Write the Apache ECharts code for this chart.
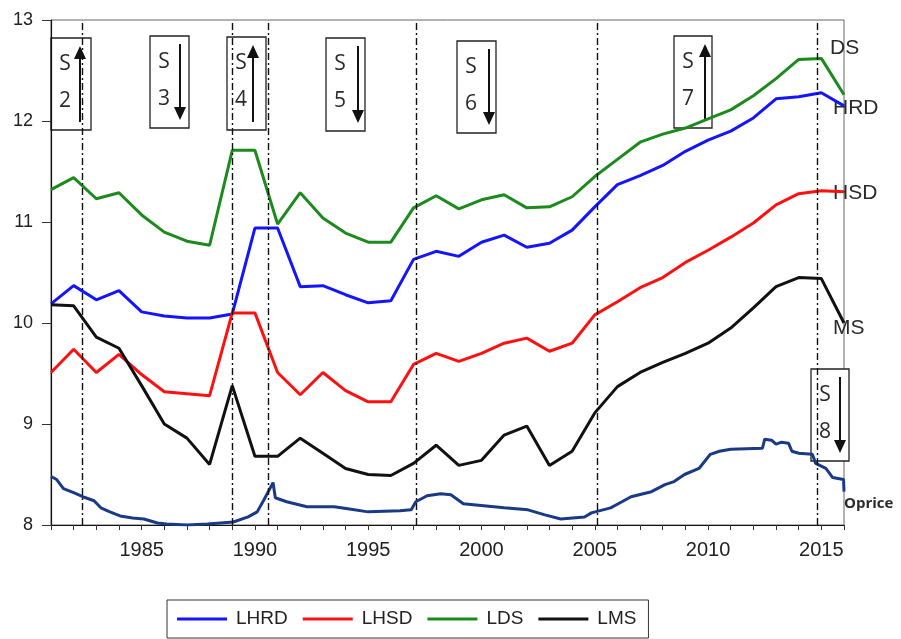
<!DOCTYPE html>
<html>
<head>
<meta charset="utf-8">
<style>
  html, body { margin: 0; padding: 0; background: #fff; }
  #chart { width: 901px; height: 639px; }
</style>
<script src="https://cdn.jsdelivr.net/npm/echarts@6/dist/echarts.min.js"></script>
</head>
<body>
<div id="chart"></div>
<script>
// annual series 1981..2016 (log levels)
const years = [];
for (let y = 1981; y <= 2016; y++) years.push(y);

const lhrd = [10.19, 10.37, 10.23, 10.32, 10.11, 10.07, 10.05, 10.05, 10.09, 10.94,
  10.94, 10.36, 10.37, 10.28, 10.20, 10.22, 10.63, 10.71, 10.66, 10.80,
  10.87, 10.75, 10.79, 10.92, 11.15, 11.37, 11.46, 11.56, 11.70, 11.81,
  11.90, 12.03, 12.22, 12.24, 12.28, 12.15];
const lhsd = [9.51, 9.74, 9.51, 9.69, 9.49, 9.32, 9.30, 9.28, 10.10, 10.10,
  9.51, 9.29, 9.51, 9.33, 9.22, 9.22, 9.59, 9.70, 9.62, 9.70,
  9.80, 9.85, 9.72, 9.80, 10.08, 10.21, 10.35, 10.45, 10.60, 10.72,
  10.85, 10.99, 11.17, 11.28, 11.31, 11.30];
const lds = [11.32, 11.44, 11.23, 11.29, 11.07, 10.90, 10.81, 10.77, 11.71, 11.71,
  10.98, 11.29, 11.04, 10.89, 10.80, 10.80, 11.14, 11.26, 11.13, 11.22,
  11.27, 11.14, 11.15, 11.25, 11.45, 11.62, 11.79, 11.87, 11.93, 12.02,
  12.11, 12.25, 12.42, 12.61, 12.62, 12.26];
const lms = [10.18, 10.17, 9.86, 9.75, 9.38, 9.00, 8.86, 8.60, 9.38, 8.68,
  8.68, 8.86, 8.71, 8.56, 8.50, 8.49, 8.61, 8.79, 8.59, 8.64,
  8.89, 8.98, 8.59, 8.73, 9.11, 9.37, 9.51, 9.61, 9.70, 9.80,
  9.95, 10.15, 10.36, 10.45, 10.44, 10.00];

// oil price, finer time steps
const opriceT = [1981.0, 1981.25, 1981.55, 1982.0, 1982.4, 1982.9, 1983.2, 1983.6, 1984.05, 1984.6,
  1985.1, 1985.7, 1986.1, 1987.0, 1987.9, 1989.05, 1989.7, 1990.1, 1990.4, 1990.8,
  1990.9, 1991.4, 1992.3, 1993.5, 1994.1, 1995.0, 1996.4, 1996.9, 1997.1, 1997.6,
  1998.2, 1998.65, 1999.2, 2000.1, 2001.0, 2002.05, 2002.8, 2003.5, 2004.55, 2004.85,
  2005.7, 2006.2, 2006.6, 2007.5, 2008.1, 2008.5, 2008.96, 2009.6, 2010.1, 2010.5,
  2011.0, 2012.4, 2012.5, 2012.8, 2013.0, 2013.25, 2013.55, 2013.7, 2014.0, 2014.6,
  2014.75, 2015.2, 2015.5, 2015.98, 2016.0];
const opriceV = [8.48, 8.45, 8.36, 8.32, 8.28, 8.24, 8.17, 8.13, 8.09, 8.07,
  8.06, 8.02, 8.01, 8.00, 8.01, 8.03, 8.08, 8.13, 8.25, 8.42,
  8.27, 8.23, 8.18, 8.18, 8.16, 8.13, 8.14, 8.15, 8.23, 8.29,
  8.31, 8.30, 8.21, 8.19, 8.17, 8.15, 8.10, 8.06, 8.08, 8.12,
  8.17, 8.23, 8.28, 8.33, 8.40, 8.43, 8.50, 8.56, 8.70, 8.73,
  8.75, 8.76, 8.85, 8.84, 8.80, 8.82, 8.81, 8.73, 8.71, 8.70,
  8.61, 8.56, 8.47, 8.45, 8.33];

// structural break dates
const breaks = [1982.4, 1989.0, 1990.6, 1997.1, 2005.1, 2014.8];

const pair = (xs, ys) => xs.map((x, i) => [x, ys[i]]);

// regime boxes: [x, y, w, h, number, up?, arrowX]
const boxes = [
  [51, 38, 40, 92, '2', true, 80],
  [150, 36, 39, 92, '3', false, 180],
  [227, 37, 39, 93, '4', true, 253],
  [326, 38, 39, 93, '5', false, 358],
  [457, 41, 39, 92, '6', false, 489],
  [674, 36, 38, 92, '7', true, 705],
  [811, 369, 38, 92, '8', false, 840]
];

function boxGraphic(b) {
  const [x, y, w, h, num, up, ax] = b;
  const top = y + 8, bot = y + h - 8;
  const tip = up ? top : bot;
  const base = up ? bot : top;
  const headLen = 13, headW = 6;
  const neck = up ? tip + headLen : tip - headLen;
  const txt = { fill: '#2b2b2b', font: '21px "Open Sans"', align: 'center', verticalAlign: 'middle' };
  return {
    type: 'group', z: 50,
    children: [
      { type: 'rect', shape: { x: x, y: y, width: w, height: h },
        style: { fill: '#fff', stroke: '#222', lineWidth: 1.3 } },
      { type: 'text', style: Object.assign({ x: x + 14, y: y + 26, text: 'S' }, txt) },
      { type: 'text', style: Object.assign({ x: x + 14, y: y + 63, text: num }, txt) },
      { type: 'line', shape: { x1: ax, y1: base, x2: ax, y2: neck },
        style: { stroke: '#111', lineWidth: 2 } },
      { type: 'polygon', shape: { points: [[ax, tip], [ax - headW, neck], [ax + headW, neck]] },
        style: { fill: '#111' } }
    ]
  };
}

const sideText = (x, y, t, font) => ({
  type: 'text', z: 0,
  style: { x: x, y: y, text: t, fill: '#2b2b2b', font: font, verticalAlign: 'middle' }
});

const chart = echarts.init(document.getElementById('chart'));
const lineSeries = (name, data, color) => ({
  name: name, type: 'line', data: pair(years, data), symbol: 'none',
  lineStyle: { width: 3, color: color }, itemStyle: { color: color },
  z: 3, silent: true
});

const series = [
  lineSeries('LHRD', lhrd, '#1414ff'),
  lineSeries('LHSD', lhsd, '#ff1010'),
  lineSeries('LDS', lds, '#1c8a1c'),
  lineSeries('LMS', lms, '#111111'),
  {
    name: 'Oprice', type: 'line', data: pair(opriceT, opriceV), symbol: 'none',
    lineStyle: { width: 3, color: '#1b3a86' }, z: 3, silent: true
  }
];
series[0].markLine = {
  silent: true, symbol: ['none', 'none'], label: { show: false },
  lineStyle: { color: '#111', width: 1.4, type: [7, 3, 2, 3] },
  emphasis: { disabled: true },
  data: breaks.map(b => ({ xAxis: b }))
};

chart.setOption({
  animation: false,
  grid: { left: 51, right: 57, top: 20, bottom: 114, show: true, borderColor: '#666', borderWidth: 1 },
  legend: {
    data: ['LHRD', 'LHSD', 'LDS', 'LMS'],
    left: 167, top: 600,
    icon: 'rect',
    itemWidth: 50, itemHeight: 3, itemGap: 15,
    padding: [8, 12, 8, 10],
    borderColor: '#333', borderWidth: 1,
    textStyle: { fontSize: 19, lineHeight: 22, color: '#222', fontFamily: 'Liberation Sans', padding: [0, 0, 0, 4] }
  },
  xAxis: {
    type: 'value', min: 1981, max: 2016, interval: 1,
    axisLine: { lineStyle: { color: '#111', width: 1.2 } },
    axisTick: { show: true, length: 5, lineStyle: { color: '#333' } },
    splitLine: { show: false },
    axisLabel: {
      margin: 15, fontSize: 20, color: '#222', fontFamily: 'Liberation Sans',
      formatter: v => (v % 5 === 0 ? String(v) : '')
    }
  },
  yAxis: {
    type: 'value', min: 8, max: 13, interval: 1,
    axisLine: { show: true, lineStyle: { color: '#111', width: 1.2 } },
    axisTick: { show: true, length: 9, lineStyle: { color: '#333' } },
    splitLine: { show: false },
    axisLabel: { margin: 18, fontSize: 18, color: '#222', fontFamily: 'Liberation Sans' }
  },
  graphic: [
    sideText(830, 48, 'DS', '21px "Liberation Sans"'),
    sideText(833, 108, 'HRD', '21px "Liberation Sans"'),
    sideText(833, 193, 'HSD', '21px "Liberation Sans"'),
    sideText(833, 328, 'MS', '21px "Liberation Sans"'),
    sideText(844, 504, 'Oprice', 'bold 15px "Liberation Sans Narrow", "Open Sans"')
  ].concat(boxes.map(boxGraphic)),
  series: series
});
</script>
</body>
</html>
